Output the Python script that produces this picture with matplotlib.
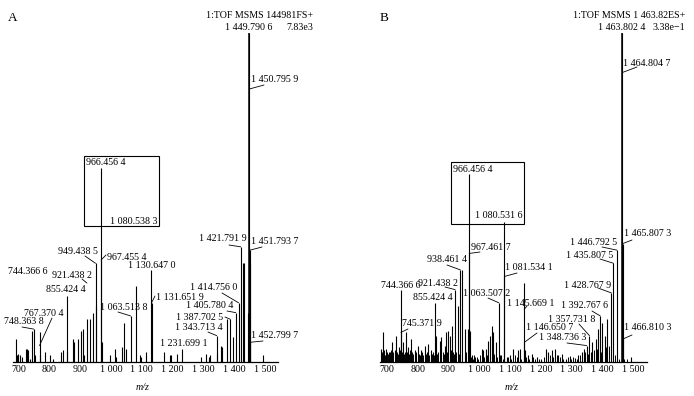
import matplotlib
matplotlib.use("Agg")
import matplotlib.pyplot as plt
from matplotlib.patches import Rectangle

plt.rcParams['font.family'] = ['Liberation Serif', 'DejaVu Serif']

# ---- data: (m/z, relative intensity %) ----
peaks_a = [
    (690, 7), (693, 2), (697, 2.5), (704, 2), (709, 1.5), (722, 4), (726, 4), (729, 3.5), (735, 1),
    (744.3666, 9.5), (748.3638, 10), (752, 2), (767.3704, 9), (770, 2), (784, 3), (800, 2), (812, 1),
    (836, 3), (845, 3.5), (855.4244, 20), (858, 3), (876, 7), (880, 6), (894, 7), (902, 9.5), (908, 10),
    (912, 2), (921.4382, 13), (931, 13), (942, 15), (949.4385, 30), (951, 17),
    (966.4564, 59), (967.4554, 31), (970, 6), (997, 2), (1013, 4), (1016, 1.5), (1034, 4.5), (1043, 12),
    (1047, 4), (1063.5138, 14), (1080.5383, 23), (1094, 2), (1097, 1.5), (1113, 3), (1130.6470, 28),
    (1131.6519, 18), (1171, 3), (1193, 2), (1196, 2), (1214, 2.5), (1231.6991, 4), (1292, 1.6),
    (1310, 2.5), (1318, 1.5), (1321, 2), (1343.7134, 8), (1346, 2.5), (1357, 5), (1360, 4.5), (1378, 13),
    (1387.7025, 13), (1397, 7.5), (1405.7804, 15), (1414.7560, 18), (1421.7919, 35), (1428, 30),
    (1433, 30), (1446, 15), (1449.7906, 100), (1450.7959, 30), (1451.7937, 34), (1452.7997, 6), (1494, 2),
]

peaks_b = [
    (680, 4), (687, 9), (698, 4), (709, 3), (716.5, 6), (725, 3.5), (730.5, 8), (738, 4.5),
    (744.3666, 22), (745.3719, 9), (752, 6), (763, 9), (768.5, 4.5), (779, 7), (790, 3.5), (801, 5),
    (811.5, 3.5), (822.5, 5), (833, 5.5), (842, 3.5), (855.4244, 18), (860, 8), (871, 6.5), (876.5, 7.5),
    (887.5, 5), (892.7, 9), (898, 9.5), (903.6, 8), (911, 11), (921.4382, 22), (929.6, 17),
    (938.4614, 28), (944.6, 28), (952, 10), (963, 10), (966.4564, 57), (967.4617, 33), (969.5, 9.5),
    (975, 2), (986, 1.5), (1007.5, 4), (1012.7, 3.5), (1021.5, 4), (1029, 6.5), (1034.5, 8), (1040, 11),
    (1045, 9), (1054, 6), (1063.5072, 18), (1072, 2), (1080.5316, 42.5), (1081.5341, 26), (1088.5, 1.5),
    (1099, 2), (1110, 4), (1126, 3.5), (1131.7, 4), (1145.6691, 24), (1146.6507, 6), (1148, 3.5),
    (1158.7, 2), (1169.6, 2.5), (1186, 1.5), (1202, 1), (1216, 4), (1223.5, 3), (1234.5, 3.5),
    (1245, 4), (1256, 2), (1267, 2.5), (1283, 1), (1294, 1.8), (1310, 1.2), (1321, 2), (1332, 3),
    (1339, 4), (1348.7363, 5), (1357.7318, 8), (1367.5, 6), (1378, 7), (1385.7, 10), (1392.7676, 14),
    (1400, 12), (1407.5, 8), (1416, 13), (1428.7679, 21), (1435.8075, 30), (1446.7925, 34),
    (1463.8024, 100), (1464.8047, 30), (1465.8073, 36), (1466.8103, 7), (1494, 1.5),
]

# low-level noise in B
grass_b = [
    (682, 2), (684, 3), (690, 2.5), (692, 3.5), (695, 2), (701, 3), (703, 2.5), (706, 3), (712, 2),
    (714, 3.5), (719, 2.5), (721, 3), (728, 2), (733, 3), (735, 2.5), (741, 3.5), (749, 3), (755, 2.5),
    (758, 3), (761, 2), (766, 3), (771, 2.5), (774, 3.5), (777, 2), (783, 3), (786, 2.5), (793, 2),
    (796, 3), (804, 2.5), (807, 2), (815, 3), (818, 2), (826, 2.5), (829, 3), (837, 2), (846, 2.5),
    (849, 3), (852, 2), (864, 2.5), (867, 3), (874, 2), (881, 3), (884, 2.5), (895, 3), (907, 3.5),
    (915, 3), (918, 2.5), (924, 3), (933, 2.5), (958, 3), (972, 1.5), (979, 1), (983, 2), (992, 1.5),
    (996, 1), (1003, 2), (1016, 1.5), (1025, 2), (1049, 2.5), (1058, 1.5), (1067, 2), (1076, 1),
    (1092, 1.5), (1104, 1), (1116, 2), (1121, 1.5), (1137, 1), (1152, 1.5), (1163, 1), (1175, 1.5),
    (1181, 1), (1193, 1), (1209, 1.5), (1228, 2), (1240, 1.5), (1251, 2), (1262, 1.5), (1272, 1),
    (1288, 1.5), (1299, 1), (1305, 1.5), (1316, 1), (1327, 2), (1335, 2.5), (1343, 3), (1353, 2.5),
    (1362, 3), (1372, 3.5), (1382, 4), (1396, 3), (1411, 4.5), (1421, 5), (1440, 2), (1455, 1),
    (1471, 0.8), (1480, 0.8),
]

ticks = [700, 800, 900, 1000, 1100, 1200, 1300, 1400, 1500]
tick_labels = ['700', '800', '900', '1 000', '1 100', '1 200', '1 300', '1 400', '1 500']

header_a = ['1:TOF MSMS 144981FS+', '7.83e3']
header_b = ['1:TOF MSMS 1 463.82ES+', '3.38e\u22121']

# ---- layout of peak labels (pixels from top-left): mz, text x, text y, ha, leader end, leader height
W, H = 694, 396
FS = 7.2

layout_a = [
    (1449.7906, 249, 27, 'center', None, None),
    (1450.7959, 251, 79, 'left', (264, 85), 83),
    (966.4564, 86, 163, 'left', None, None),
    (1080.5383, 110, 222, 'left', None, None),
    (1451.7937, 251, 241, 'left', (262, 247), None),
    (1421.7919, 247, 239, 'right', (229, 245), None),
    (949.4385, 98, 251, 'right', (85, 256), None),
    (967.4554, 107, 257, 'left', (106, 255), None),
    (744.3666, 8, 271, 'left', None, None),
    (921.4382, 92, 275, 'right', (82, 279), 24),
    (1130.6470, 151.5, 266, 'center', None, None),
    (855.4244, 66, 289, 'center', None, None),
    (1414.7560, 237, 287, 'right', (222, 293), None),
    (1131.6519, 156, 297, 'left', (155, 296), None),
    (1405.7804, 233, 306, 'right', (227, 311), None),
    (767.3704, 64, 313, 'right', (52, 318), 5),
    (1063.5138, 148, 308, 'right', (118, 312), None),
    (1387.7025, 223, 317, 'right', (225, 317), None),
    (748.3638, 44, 322, 'right', (22, 327), None),
    (1343.7134, 223, 327, 'right', (208, 332), None),
    (1452.7997, 251, 335, 'left', (263, 341), None),
    (1231.6991, 183.5, 344, 'center', None, None),
]

layout_b = [
    (1463.8024, 621.5, 27, 'center', None, None),
    (1464.8047, 623, 63, 'left', (637, 67), 88),
    (966.4564, 453, 170, 'left', None, None),
    (1080.5316, 475, 216, 'left', None, None),
    (1465.8073, 624, 234, 'left', (632, 240), None),
    (1446.7925, 617, 242, 'right', (602, 247), None),
    (1435.8075, 613, 255, 'right', (600, 259), None),
    (967.4617, 471, 248, 'left', (480, 252), None),
    (938.4614, 467, 260, 'right', (447, 265), None),
    (1081.5341, 505, 268, 'left', (517, 273), None),
    (744.3666, 400.5, 285, 'center', None, None),
    (921.4382, 458, 283, 'right', (445, 287), None),
    (855.4244, 432.5, 298, 'center', None, None),
    (1063.5072, 510, 294, 'right', (488, 298), None),
    (1145.6691, 507, 303, 'left', (527, 306), 16),
    (1428.7679, 611, 285, 'right', (598, 288), None),
    (1392.7676, 608, 306, 'right', (592, 311), None),
    (745.3719, 402, 323, 'left', (408, 329), None),
    (1357.7318, 595, 320, 'right', (579, 324), None),
    (1146.6507, 526, 328, 'left', (537, 333), None),
    (1348.7363, 586, 337, 'right', (567, 343), None),
    (1466.8103, 624, 328, 'left', (632, 335), None),
]


def fmt(mz):
    s = f"{mz:.4f}"
    i, d = s.split('.')
    if len(i) > 3:
        i = i[:-3] + ' ' + i[-3:]
    return i + '.' + d[:3] + ' ' + d[3:]


def ptext(x, y, s, ha='left', **kw):
    kw.setdefault('fontsize', FS)
    fig.text(x / W, 1 - y / H, s, ha=ha, va='center', **kw)


fig = plt.figure(figsize=(W / 100, H / 100), dpi=100)


def make_panel(rect, xlim, peaks, grass, layout, box, letter, header, mz_x):
    left, right, base, top = rect
    ax = fig.add_axes([left / W, 1 - base / H, (right - left) / W, (base - top) / H])
    ax.set_xlim(*xlim)
    ax.set_ylim(0, 100)
    for s in ['left', 'top', 'right']:
        ax.spines[s].set_visible(False)
    ax.spines['bottom'].set_linewidth(0.9)
    ax.set_yticks([])
    ax.set_xticks(ticks)
    ax.set_xticklabels(tick_labels, fontsize=FS)
    ax.tick_params(axis='x', length=0, pad=2.5)

    if grass:
        ax.vlines([p[0] for p in grass], 0, [p[1] for p in grass], color='black', lw=0.7)
    mz = [p[0] for p in peaks]
    h = [p[1] for p in peaks]
    ax.vlines(mz, 0, h, color='black', lw=0.8)
    # base peak a bit heavier
    top_i = h.index(max(h))
    ax.vlines([mz[top_i]], 0, [h[top_i]], color='black', lw=1.1)

    hmap = dict(peaks)
    for (m, tx, ty, ha, lend, lh) in layout:
        ptext(tx, ty, fmt(m), ha=ha)
        if lend is not None:
            yy = lh if lh is not None else hmap[m]
            ax.annotate('', xy=(m, yy), xycoords='data',
                        xytext=(lend[0], H - lend[1]), textcoords='figure pixels',
                        arrowprops=dict(arrowstyle='-', lw=0.6, color='black',
                                        shrinkA=0, shrinkB=0))

    bx0, bx1, by0, by1 = box
    ax.add_patch(Rectangle((bx0, by0), bx1 - bx0, by1 - by0, fill=False,
                           lw=0.8, edgecolor='black', clip_on=False))

    ptext(letter[1], letter[2], letter[0], fontsize=9.5)
    ptext(header[2], 15, header[0], ha='right')
    ptext(header[2], 27, header[1], ha='right')
    ptext(mz_x, 387, 'm/z', ha='center', style='italic')
    return ax


make_panel((13, 278, 362, 33), (681, 1543), peaks_a, None, layout_a,
           (912, 1156, 41.3, 62.6), ('A', 8, 18), header_a + [313], 143)
make_panel((380, 647, 362, 33), (677.6, 1544.6), peaks_b, grass_b, layout_b,
           (908, 1144.7, 41.9, 60.8), ('B', 380, 18), header_b + [685], 512)

fig.savefig('out.png', dpi=100)
